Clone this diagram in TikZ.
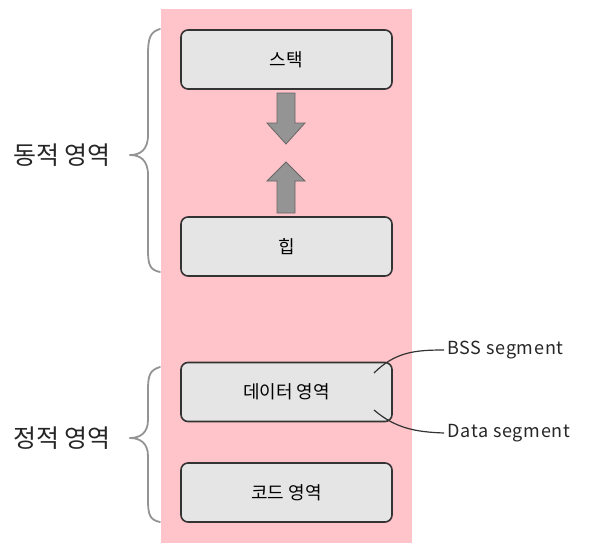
\documentclass[tikz,border=0pt]{standalone}
\usepackage{fontspec}
\newfontfamily\kr{Noto Sans CJK KR}
\setmainfont{Noto Sans CJK KR}[LetterSpace=4]
\begin{document}
\begin{tikzpicture}[x=1pt,y=-1pt,
  seg/.style={draw=black!80,line width=1.6pt,fill=black!10,rounded corners=7pt,minimum width=211pt,minimum height=59pt,font=\kr\fontsize{18}{20}\selectfont},
  brace/.style={draw=black!42,line width=1.8pt,line cap=round},
  side/.style={font=\kr\fontsize{25}{28}\selectfont,text=black!85},
  note/.style={font=\fontsize{18}{20}\selectfont,text=black!85,anchor=west},
  lead/.style={draw=black!80,line width=1.2pt},
  fatarrow/.style={fill=black!42,draw=black!60,line width=0.8pt}]
\useasboundingbox (0,0) rectangle (594,551);
\fill[fill={rgb,255:red,255;green,196;blue,202}] (161,9) rectangle (412,543);
\node[seg] (stack) at (286.5,59.5) {스택};
\node[seg] (heap) at (286.5,246.5) {힙};
\node[seg] (data) at (286.5,392) {데이터 영역};
\node[seg] (code) at (286.5,492.5) {코드 영역};
% arrows
\draw[fatarrow] (277,93) -- (295,93) -- (295,123) -- (305,123) -- (286,144) -- (267,123) -- (277,123) -- cycle;
\draw[fatarrow] (277,213) -- (295,213) -- (295,181) -- (305,181) -- (286,162) -- (267,181) -- (277,181) -- cycle;
% braces
\coordinate (b1t) at (160,29);
\coordinate (b1m) at (130,155);
\coordinate (b1b) at (160,272);
\draw[brace] (b1t) .. controls (150,32) and (148,38) .. (148,55) -- (148,135) .. controls (148,150) and (140,155) .. (b1m);
\draw[brace] (b1m) .. controls (140,155) and (148,160) .. (148,175) -- (148,250) .. controls (148,265) and (150,270) .. (b1b);
\node[side] (dyn) at (62,155) {동적 영역};
\coordinate (b2t) at (160,367);
\coordinate (b2m) at (130,438);
\coordinate (b2b) at (160,522);
\draw[brace] (b2t) .. controls (150,370) and (148,375) .. (148,390) -- (148,420) .. controls (148,433) and (140,438) .. (b2m);
\draw[brace] (b2m) .. controls (140,438) and (148,443) .. (148,456) -- (148,500) .. controls (148,515) and (150,520) .. (b2b);
\node[side] (stat) at (62,438) {정적 영역};
% notes
\node[note] (bss) at (444,350) {BSS segment};
\node[note] (dseg) at (444,433) {Data segment};
\coordinate (l1) at (374,373);
\coordinate (l2) at (374,410);
\draw[lead] (l1) .. controls (395,352) and (415,350) .. (bss.west);
\draw[lead] (l2) .. controls (395,428) and (415,432) .. (dseg.west);
\end{tikzpicture}
\end{document}
